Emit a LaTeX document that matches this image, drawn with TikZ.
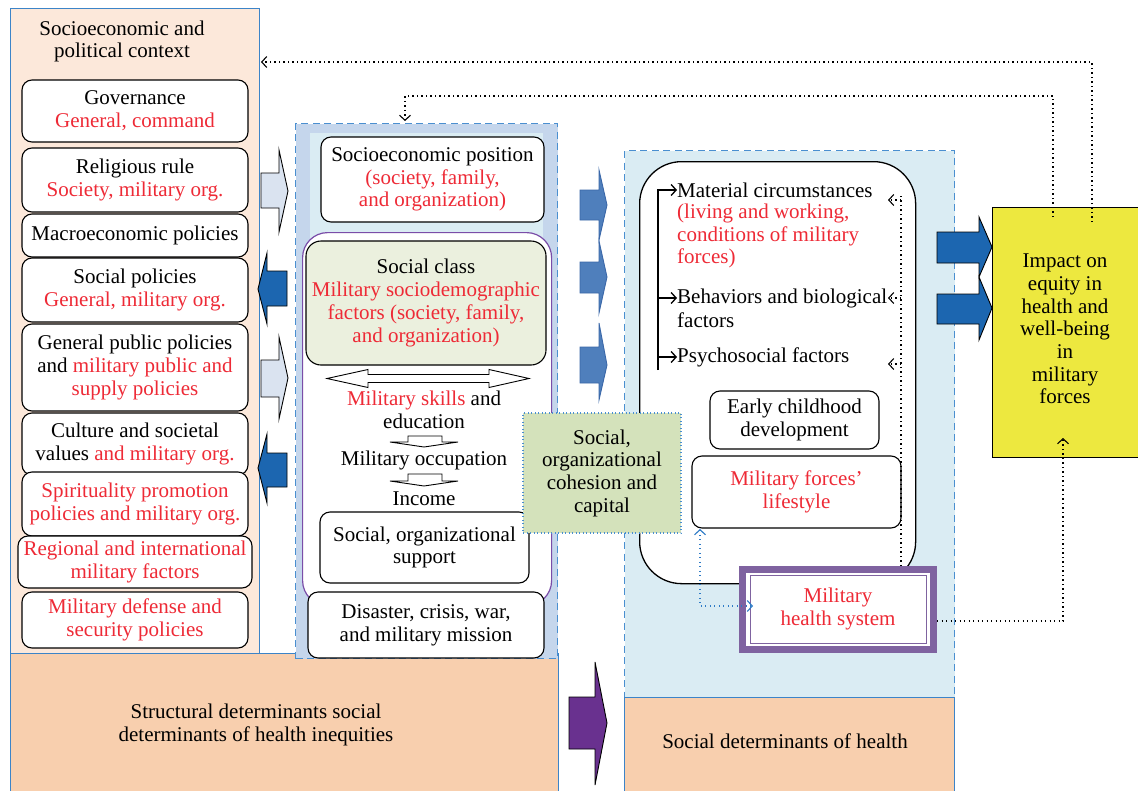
\documentclass[tikz,border=0pt]{standalone}
\usepackage{fontspec}
\setmainfont{Liberation Serif}
\usetikzlibrary{arrows.meta}

\definecolor{txtred}{HTML}{EE2A36}
\definecolor{ctxfill}{HTML}{FCE8DA}
\definecolor{peach}{HTML}{F8CFAE}
\definecolor{panelline}{HTML}{3C84C8}
\definecolor{dashblue}{HTML}{4A8FD0}
\definecolor{midband}{HTML}{C5D6EC}
\definecolor{aqua}{HTML}{DAECF3}
\definecolor{classgreen}{HTML}{EBF0DE}
\definecolor{cohgreen}{HTML}{D4E2BB}
\definecolor{impyellow}{HTML}{EDE83F}
\definecolor{lightarr}{HTML}{DAE3F0}
\definecolor{darkarr}{HTML}{1C66B0}
\definecolor{midarr}{HTML}{4F7FBC}
\definecolor{midarrline}{HTML}{3A67A8}
\definecolor{purplearr}{HTML}{69318F}
\definecolor{hsframe}{HTML}{7F63A0}
\definecolor{classline}{HTML}{7A4DA8}
\definecolor{linkblue}{HTML}{2E7BC6}

\newcommand\redtxt[1]{\textcolor{txtred}{#1}}

\begin{document}
\begin{tikzpicture}[x=1pt,y=-1pt,
  every node/.style={font=\fontsize{21}{22.7}\selectfont, inner sep=0pt, align=center},
  panel/.style={draw=panelline, line width=0.9pt, anchor=north west},
  dashpanel/.style={draw=dashblue, line width=1.4pt, dash pattern=on 7pt off 4.5pt, anchor=north west},
  rbox/.style={draw=black, fill=white, rounded corners=10pt, line width=1.1pt},
  blockarr/.style={line width=0.9pt, line join=miter},
  barb/.style={-{Straight Barb[length=5pt,width=11pt]}},
  fb/.style={black, line width=1.1pt, dash pattern=on 1.1pt off 3.4pt},
  bluedot/.style={linkblue, line width=1.1pt, dash pattern=on 1.1pt off 3.4pt},
  ]
\useasboundingbox (0,0) rectangle (1138,790);

% ---------- background panels ----------
\node[panel, fill=ctxfill, minimum width=249pt, minimum height=645pt] (ctx) at (10,8) {};
\node[panel, fill=peach, minimum width=548pt, minimum height=140pt] (struct) at (10,653) {};
\node[dashpanel, fill=aqua, minimum width=330pt, minimum height=547pt] (sdh) at (624,150) {};
\node[panel, fill=peach, minimum width=330pt, minimum height=96pt] (sdhbase) at (624,697) {};
\node[dashpanel, fill=midband, minimum width=262pt, minimum height=535pt] (mid) at (295,123) {};
\fill[aqua] (310,133) rectangle (543,300);

\node (ctxtitle) at (122,41.5) {Socioeconomic and\\political context};
\node (structtitle) at (256,725) {Structural determinants social\\determinants of health inequities};
\node (sdhtitle) at (785,741) {Social determinants of health};

% ---------- feedback loops along the top ----------
\coordinate (fbAstart) at (1092,222);
\coordinate (ctxIn) at (261,62);
\draw[fb, barb] (fbAstart) |- (ctxIn);
\coordinate (fbBstart) at (1053,217);
\coordinate (fbBturn) at (405,96);
\coordinate (midIn) at (405,121);
\draw[fb, barb] (fbBstart) |- (fbBturn) -- (midIn);

% ---------- socioeconomic and political context ----------
\node[rbox, minimum width=226pt, minimum height=62pt] (gov) at (135,111) {Governance\\\redtxt{General, command}};
\node[rbox, minimum width=226pt, minimum height=64pt] (rel) at (135,180) {Religious rule\\\redtxt{Society, military org.}};
\node[rbox, minimum width=226pt, minimum height=43pt] (macro) at (135,235.5) {Macroeconomic policies};
\node[rbox, minimum width=226pt, minimum height=64pt] (socpol) at (135,290) {Social policies\\\redtxt{General, military org.}};
\node[rbox, minimum width=226pt, minimum height=87pt] (pubpol) at (135,367.5) {General public policies\\and \redtxt{military public and}\\\redtxt{supply policies}};
\node[rbox, minimum width=226pt, minimum height=62pt] (cult) at (135,444) {Culture and societal\\values \redtxt{and military org.}};
\node[rbox, minimum width=226pt, minimum height=64pt] (spir) at (135,504) {\redtxt{Spirituality promotion}\\\redtxt{policies and military org.}};
\node[rbox, minimum width=234pt, minimum height=52pt] (reg) at (135,562) {\redtxt{Regional and international}\\\redtxt{military factors}};
\node[rbox, minimum width=226pt, minimum height=56pt] (def) at (135,620) {\redtxt{Military defense and}\\\redtxt{security policies}};

% ---------- block arrows between context and position ----------
\filldraw[blockarr, fill=lightarr] (261,173) -- (279,173) -- (279,150) -- (288,191) -- (279,232) -- (279,208) -- (261,208) -- cycle;
\filldraw[blockarr, fill=darkarr] (287,271) -- (267,271) -- (267,253) -- (258,289) -- (267,324) -- (267,306) -- (287,306) -- cycle;
\filldraw[blockarr, fill=lightarr] (261,360) -- (279,360) -- (279,337) -- (288,378) -- (279,419) -- (279,397) -- (261,397) -- cycle;
\filldraw[blockarr, fill=darkarr] (287,453) -- (267,453) -- (267,434) -- (258,468) -- (267,503) -- (267,487) -- (287,487) -- cycle;

% ---------- socioeconomic position column ----------
\node[rbox, minimum width=223pt, minimum height=85pt] (sep) at (432.5,179.5) {Socioeconomic position\\\redtxt{(society, family,}\\\redtxt{and organization)}};
\node[draw=classline, line width=1.2pt, fill=white, rounded corners=25pt, minimum width=249pt, minimum height=373pt, anchor=north west] (classwrap) at (302,232) {};
\node[rbox, fill=classgreen, rounded corners=15pt, minimum width=240pt, minimum height=124pt] (class) at (426,303) {Social class\\\redtxt{Military sociodemographic}\\\redtxt{factors (society, family,}\\\redtxt{and organization)}};
\filldraw[fill=white, line width=0.9pt] (327,378.5) -- (368,369.5) -- (368,374.5) -- (489,374.5) -- (489,369.5) -- (529,378.5) -- (489,387.5) -- (489,382.5) -- (368,382.5) -- (368,387.5) -- cycle;
\node (skills) at (424,410) {\redtxt{Military skills} and\\education};
\filldraw[fill=white, line width=0.9pt] (408,436) -- (442,436) -- (442,442) -- (458,442) -- (424,447) -- (390,442) -- (408,442) -- cycle;
\node (occ) at (424,460) {Military occupation};
\filldraw[fill=white, line width=0.9pt] (408,474) -- (442,474) -- (442,481) -- (458,481) -- (424,486) -- (390,481) -- (408,481) -- cycle;
\node (inc) at (424,499) {Income};
\node[rbox, minimum width=209pt, minimum height=71pt] (support) at (424.5,547.5) {Social, organizational\\support};
\node[rbox, minimum width=236pt, minimum height=66pt] (disaster) at (426,625) {Disaster, crisis, war,\\and military mission};

% ---------- block arrows towards intermediary determinants ----------
\filldraw[blockarr, draw=midarrline, fill=midarr] (580,190) -- (599,190) -- (599,170) -- (607,205) -- (599,240) -- (599,220) -- (580,220) -- cycle;
\filldraw[blockarr, draw=midarrline, fill=midarr] (580,262) -- (599,262) -- (599,241) -- (607,277) -- (599,313) -- (599,293) -- (580,293) -- cycle;
\filldraw[blockarr, draw=midarrline, fill=midarr] (580,347) -- (599,347) -- (599,323) -- (607,365) -- (599,400) -- (599,383) -- (580,383) -- cycle;
\filldraw[blockarr, fill=purplearr] (569,697) -- (595,697) -- (595,662) -- (607,723) -- (595,785) -- (595,749) -- (569,749) -- cycle;

% ---------- intermediary determinants ----------
\node[draw=black, line width=1.3pt, fill=white, rounded corners=42pt, minimum width=276pt, minimum height=422pt, anchor=north west] (pathways) at (639,161) {};
\node[anchor=west] (matA) at (677,190) {Material circumstances};
\node[anchor=west, align=left, text=txtred] (matB) at (677,236) {(living and working,\\conditions of military\\forces)};
\node[anchor=west] (behA) at (677,298) {Behaviors and biological};
\node[anchor=west] (behB) at (677,320) {factors};
\node[anchor=west] (psy) at (677,357) {Psychosocial factors};
\coordinate (busBot) at (658,370);
\draw[line width=1.3pt, barb] (busBot) |- (matA.west);
\draw[line width=1.3pt, barb] (behA.west -| busBot) -- (behA.west);
\draw[line width=1.3pt, barb] (psy.west -| busBot) -- (psy.west);

\node[rbox, minimum width=169pt, minimum height=58pt] (ecd) at (794.5,420) {Early childhood\\development};
\node[rbox, minimum width=209pt, minimum height=72pt, text=txtred] (life) at (796.5,492) {Military forces’\\lifestyle};

% cohesion sits across both columns
\node[draw=dashblue, line width=1.1pt, dash pattern=on 1pt off 2.5pt, fill=cohgreen, minimum width=158pt, minimum height=120pt] (coh) at (602,473) {Social,\\organizational\\cohesion and\\capital};

% health system
\node[draw=hsframe, line width=7pt, fill=white, minimum width=191pt, minimum height=80pt] (mhs) at (838,609.5) {};
\node[draw=hsframe, line width=0.8pt, minimum width=176pt, minimum height=68pt, text=txtred] (mhsin) at (838,609) {Military\\health system};

% feedback from the health system into the pathways
\coordinate (dotTop) at (901,193);
\draw[fb] (mhs.north -| dotTop) -- (dotTop);
\coordinate (fbM1) at (888,200);
\coordinate (fbM2) at (888,298);
\coordinate (fbM3) at (888,364);
\draw[fb, barb] (fbM1 -| dotTop) -- (fbM1);
\draw[fb, barb] (fbM2 -| dotTop) -- (fbM2);
\draw[fb, barb] (fbM3 -| dotTop) -- (fbM3);

\coordinate (lifeArrow) at (700,529);
\coordinate (mhsArrow) at (753,606);
\draw[bluedot, {Straight Barb[length=5pt,width=11pt]}-{Straight Barb[length=5pt,width=11pt]}] (lifeArrow) |- (mhsArrow);

% ---------- impact ----------
\node[draw=black, line width=1.1pt, fill=impyellow, minimum width=150pt, minimum height=250pt, anchor=north west] (imp) at (992,207) {};
\node (imptxt) at (1065,329) {Impact on\\equity in\\health and\\well-being\\in\\military\\forces};
\filldraw[blockarr, fill=darkarr] (937,232) -- (979,232) -- (979,217) -- (992,247) -- (979,277) -- (979,263) -- (937,263) -- cycle;
\filldraw[blockarr, fill=darkarr] (937,294) -- (979,294) -- (979,277) -- (992,308) -- (979,340) -- (979,324) -- (937,324) -- cycle;

\coordinate (mhsOut) at (937,621);
\coordinate (impArrow) at (1063,438);
\draw[fb, barb] (mhsOut) -| (impArrow);

% restore the loops' start inside the impact box
\draw[fb] (fbAstart) -- (fbAstart |- imp.north);
\draw[fb] (fbBstart) -- (fbBstart |- imp.north);
\end{tikzpicture}
\end{document}
